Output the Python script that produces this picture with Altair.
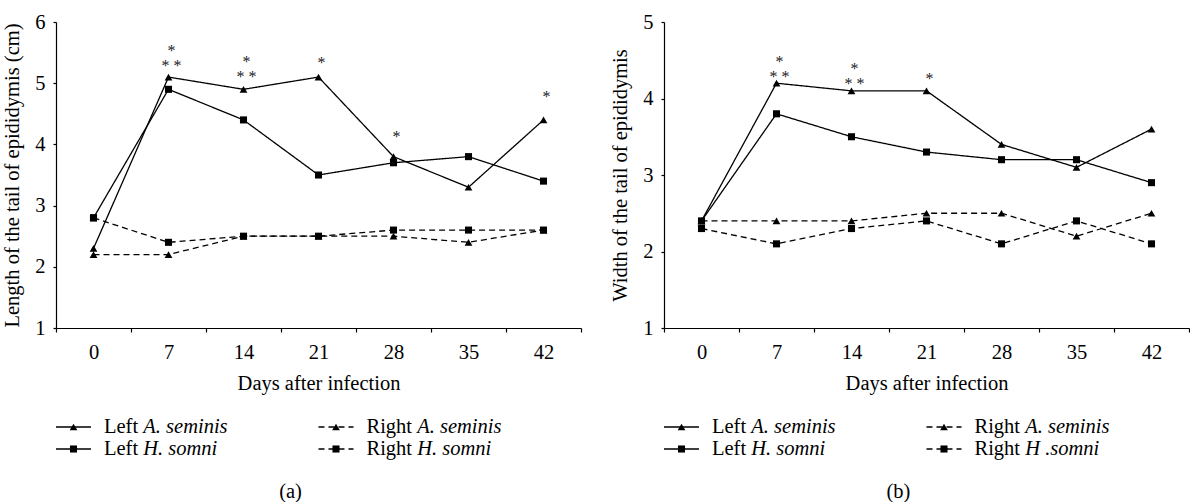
import altair as alt
import pandas as pd

FONT = "Liberation Serif"
FS = 20.5
STAR_FS = 16

days = [0, 7, 14, 21, 28, 35, 42]

# Panel (a): length of the tail of epididymis (cm)
len_left_as = [2.3, 5.1, 4.9, 5.1, 3.8, 3.3, 4.4]
len_left_hs = [2.8, 4.9, 4.4, 3.5, 3.7, 3.8, 3.4]
len_right_as = [2.2, 2.2, 2.5, 2.5, 2.5, 2.4, 2.6]
len_right_hs = [2.8, 2.4, 2.5, 2.5, 2.6, 2.6, 2.6]

# Panel (b): width of the tail of epididymis
wid_left_as = [2.4, 4.2, 4.1, 4.1, 3.4, 3.1, 3.6]
wid_left_hs = [2.4, 3.8, 3.5, 3.3, 3.2, 3.2, 2.9]
wid_right_as = [2.4, 2.4, 2.4, 2.5, 2.5, 2.2, 2.5]
wid_right_hs = [2.3, 2.1, 2.3, 2.4, 2.1, 2.4, 2.1]

# significance asterisks (one text block per day; value = top row)
len_star_day = [7, 14, 21, 28, 42]
len_star_y = [5.58, 5.40, 5.38, 4.17, 4.82]
len_star_txt = ["*\n* *", "*\n* *", "*", "*", "*"]
wid_star_day = [7, 14, 21]
wid_star_y = [4.52, 4.43, 4.29]
wid_star_txt = ["*\n* *", "*\n* *", "*"]

series_side = ["Left", "Left", "Right", "Right"]
series_sp = ["A", "H", "A", "H"]
legend_sp_a = ["A. seminis", "H. somni", "A. seminis", "H. somni"]
legend_sp_b = ["A. seminis", "H. somni", "A. seminis", "H .somni"]
legend_col = [0, 0, 1, 1]
legend_row = [0, 1, 0, 1]


def long_df(series_vals):
    rows = []
    for i, vals in enumerate(series_vals):
        for d, v in zip(days, vals):
            rows.append({"day": d, "value": v, "series": f"{series_side[i]}-{series_sp[i]}",
                         "side": series_side[i], "sp": series_sp[i]})
    return pd.DataFrame(rows)


def panel(series_vals, ymax, ytitle, sday, sy, stxt, leg_sp, caption):
    df = long_df(series_vals)
    stars = pd.DataFrame({"day": sday, "value": sy, "t": stxt})
    x = alt.X("day:O", scale=alt.Scale(domain=days, paddingInner=0, paddingOuter=0),
              axis=alt.Axis(title="Days after infection", labelAngle=0, tickBand="extent",
                            tickSize=4, labelPadding=10, titlePadding=11))
    y = alt.Y("value:Q", scale=alt.Scale(domain=[1, ymax], nice=False, zero=False),
              axis=alt.Axis(title=ytitle, values=list(range(1, ymax + 1)), grid=False,
                            tickSize=3, labelPadding=8, titlePadding=12))
    lines = alt.Chart(df).mark_line(color="black", strokeWidth=1.3).encode(
        x=x, y=y, detail="series:N",
        strokeDash=alt.StrokeDash("side:N", scale=alt.Scale(domain=["Left", "Right"],
                                                             range=[[1, 0], [6, 4]]), legend=None))
    pts = alt.Chart(df).mark_point(filled=True, color="black", opacity=1).encode(
        x=x, y=y,
        shape=alt.Shape("sp:N", scale=alt.Scale(domain=["A", "H"], range=["triangle-up", "square"]), legend=None),
        size=alt.Size("sp:N", scale=alt.Scale(domain=["A", "H"], range=[60, 50]), legend=None))
    st = alt.Chart(stars).mark_text(font=FONT, fontSize=STAR_FS, color="#222", baseline="middle",
                                    lineBreak="\n", lineHeight=15, dx=3, dy=3).encode(
        x=x, y=y, text="t:N")
    plot = alt.layer(lines, pts, st).properties(width=525, height=306)

    leg = pd.DataFrame({"col": legend_col, "row": legend_row, "side": series_side,
                        "sp": series_sp, "pre": series_side, "name": leg_sp})
    lx = alt.X("col:Q", scale=alt.Scale(domain=[0, 2]), axis=None)
    ly = alt.Y("row:Q", scale=alt.Scale(domain=[0, 1], reverse=True), axis=None)
    base = alt.Chart(leg)
    lrule = base.mark_rule(color="black", strokeWidth=1.3, x2Offset=35).encode(
        x=lx, x2="col:Q", y=ly,
        strokeDash=alt.StrokeDash("side:N", scale=alt.Scale(domain=["Left", "Right"],
                                                             range=[[1, 0], [6, 23]]), legend=None))
    lpt = base.mark_point(filled=True, color="black", opacity=1, xOffset=17.5).encode(
        x=lx, y=ly,
        shape=alt.Shape("sp:N", scale=alt.Scale(domain=["A", "H"], range=["triangle-up", "square"]), legend=None),
        size=alt.Size("sp:N", scale=alt.Scale(domain=["A", "H"], range=[30, 40]), legend=None))
    lpre = base.mark_text(font=FONT, fontSize=FS, align="left", baseline="middle", xOffset=48, color="black").encode(
        x=lx, y=ly, text="pre:N")
    lsp0 = base.mark_text(font=FONT, fontSize=FS, fontStyle="italic", align="left", baseline="middle",
                          xOffset=48 + 1.916 * FS, color="black").encode(x=lx, y=ly, text="name:N").transform_filter(
        alt.datum.col == 0)
    lsp1 = base.mark_text(font=FONT, fontSize=FS, fontStyle="italic", align="left", baseline="middle",
                          xOffset=48 + 2.473 * FS, color="black").encode(x=lx, y=ly, text="name:N").transform_filter(
        alt.datum.col == 1)
    legend = alt.layer(lrule, lpt, lpre, lsp0, lsp1).properties(
        width=525, height=22,
        title=alt.TitleParams(caption, orient="bottom", anchor="middle", font=FONT, fontSize=FS,
                              fontWeight="normal", color="black", offset=22, dx=-28))
    return alt.vconcat(plot, legend, spacing=23)


pa = panel([len_left_as, len_left_hs, len_right_as, len_right_hs], 6,
           "Length of the tail of epididymis (cm)", len_star_day, len_star_y, len_star_txt, legend_sp_a, "(a)")
pb = panel([wid_left_as, wid_left_hs, wid_right_as, wid_right_hs], 5,
           "Width of the tail of epididymis", wid_star_day, wid_star_y, wid_star_txt, legend_sp_b, "(b)")

chart = alt.hconcat(pa, pb, spacing=28).properties(
    padding={"left": 2, "top": 12, "right": 0, "bottom": 0}
).configure_view(stroke=None).configure_axis(
    labelFont=FONT, titleFont=FONT, labelFontSize=FS, titleFontSize=FS, titleFontWeight="normal",
    labelColor="black", titleColor="black", domainColor="black", tickColor="black",
    domainWidth=1.2, tickWidth=1.2
).configure_concat(spacing=28)

chart.save("out.html", embed_options={"renderer": "svg", "actions": False})
